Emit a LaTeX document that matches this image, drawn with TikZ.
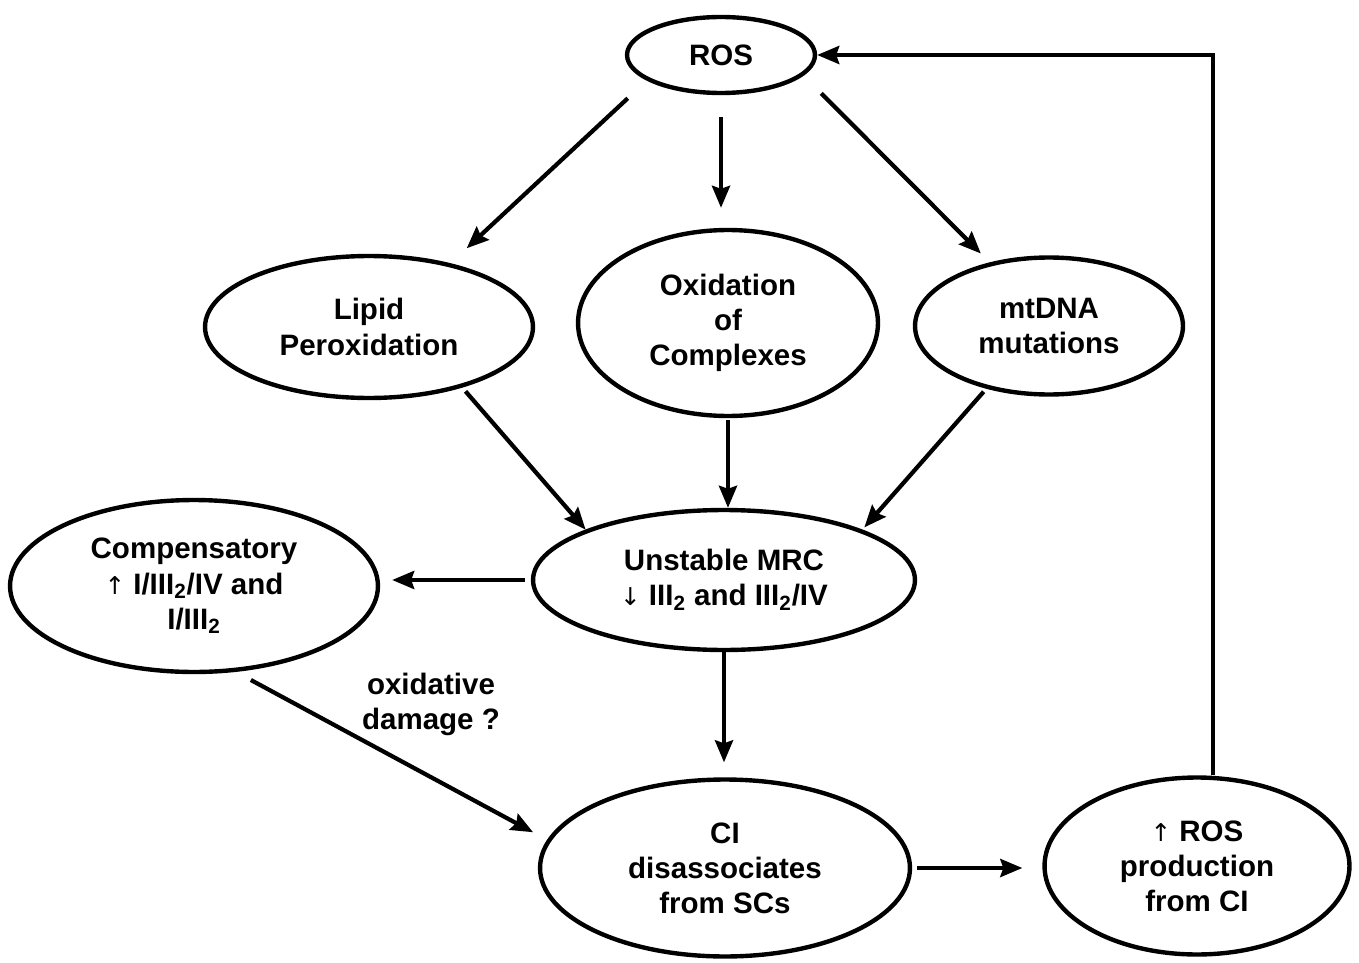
\documentclass[tikz,border=0pt]{standalone}
\usepackage{fontspec}
\setmainfont{Liberation Sans}
\newfontfamily\arrfont{DejaVu Sans}
\usetikzlibrary{shapes.geometric,arrows.meta}
\newcommand\myup{{\arrfont\mdseries\fontsize{14}{20}\selectfont ↑}}
\newcommand\mydown{{\arrfont\mdseries\fontsize{14}{20}\selectfont ↓}}
\begin{document}
\begin{tikzpicture}[x=0.02cm,y=-0.02cm,
  el/.style={ellipse, draw, line width=2.5pt, inner sep=0pt, align=center,
    font=\fontsize{16.8}{20}\selectfont\bfseries},
  lbl/.style={align=center, font=\fontsize{16.8}{20}\selectfont\bfseries},
  ar/.style={line width=2.4pt, -{Stealth[length=0.44cm,width=0.36cm,inset=0.06cm]}}]
\useasboundingbox (0,0) rectangle (1359,963);
\node[el, minimum width=3.76cm, minimum height=1.52cm] (ros) at (721,55) {ROS};
\node[el, minimum width=6.56cm, minimum height=2.84cm] (lip) at (369,327) {Lipid\\Peroxidation};
\node[el, minimum width=6.0cm, minimum height=3.72cm] (ox) at (728,323) {Oxidation\\of\\Complexes};
\node[el, minimum width=5.36cm, minimum height=2.74cm] (mt) at (1049,326) {mtDNA\\mutations};
\node[el, minimum width=7.64cm, minimum height=2.8cm] (mrc) at (724,580) {Unstable MRC\\\mydown\ III\textsubscript{2} and III\textsubscript{2}/IV};
\node[el, minimum width=7.36cm, minimum height=3.44cm] (comp) at (194,586) {Compensatory\\\myup\ I/III\textsubscript{2}/IV and\\I/III\textsubscript{2}};
\node[el, minimum width=7.4cm, minimum height=3.54cm] (ci) at (725,868) {CI\\disassociates\\from SCs};
\node[el, minimum width=6.1cm, minimum height=3.54cm] (rosp) at (1197,866) {\myup\ ROS\\production\\from CI};
\node[lbl] (dmg) at (431,704) {oxidative\\damage ?};

\draw[ar, shorten <=0.52cm, shorten >=0.44cm] (ros.199) -- (lip.38);
\draw[ar, shorten <=0.44cm, shorten >=0.4cm] (ros.south) -- (ros.south |- ox.north);
\draw[ar, shorten <=0.5cm, shorten >=0.25cm] (ros.-14) -- (mt.133);
\draw[ar, shorten <=0.1cm] (lip.-33) -- (mrc.160);
\draw[ar, shorten <=0.04cm] (ox.south) -- (ox.south |- mrc.north);
\draw[ar, shorten <=0.08cm, shorten >=0.06cm] (mt.225) -- (mrc.20);
\draw[ar, shorten <=0.12cm, shorten >=0.24cm] (mrc.west) -- (mrc.west -| comp.east);
\draw[ar, shorten >=0.3cm] (mrc.south) -- (mrc.south |- ci.north);
\draw[ar, shorten <=0.34cm, shorten >=0.32cm] (comp.-64) -- (ci.171);
\draw[ar, shorten <=0.1cm, shorten >=0.4cm] (ci.east) -- (ci.east -| rosp.west);
\draw[ar] ([xshift=0.32cm]rosp.north) |- (ros.east);
\end{tikzpicture}
\end{document}
